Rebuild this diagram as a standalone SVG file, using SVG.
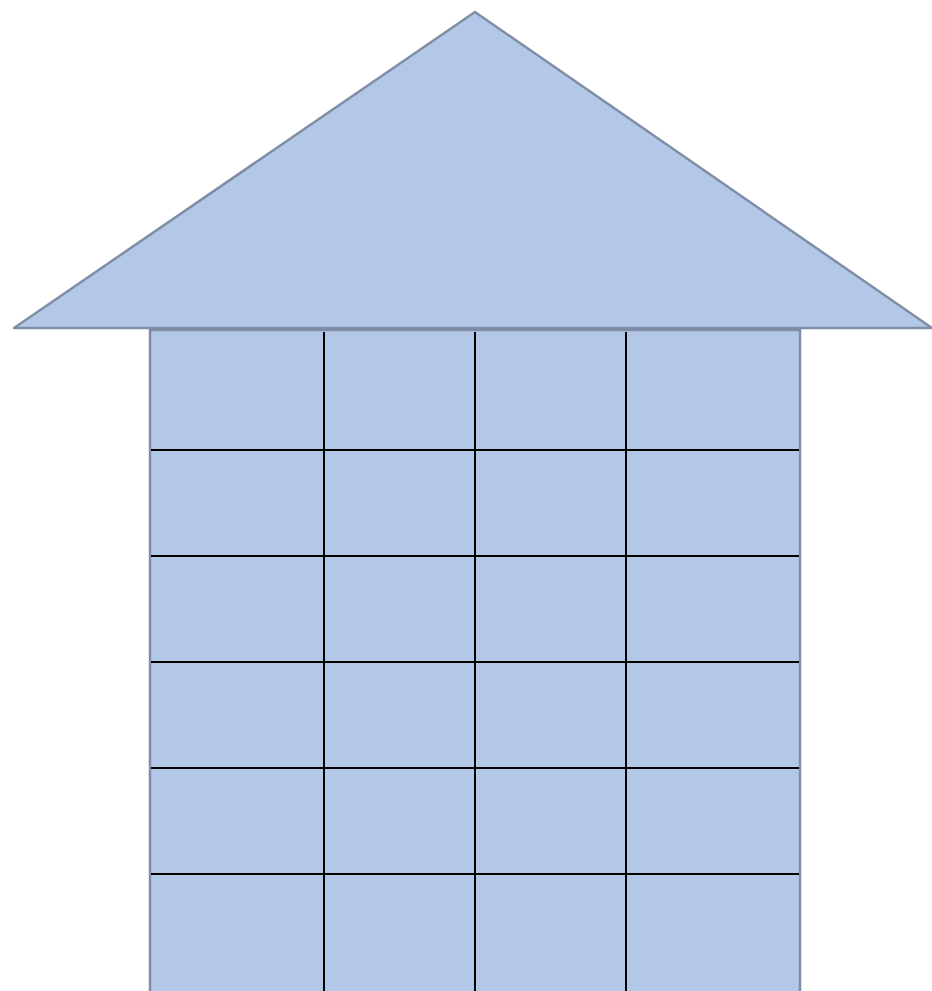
<svg xmlns="http://www.w3.org/2000/svg" width="932" height="991" viewBox="0 0 932 991">
<style>
.shape{fill:#b3c8e7;stroke:#7f8ea6;stroke-width:2.5}
.grid{stroke:#000;stroke-width:2;fill:none}
</style>
<rect width="932" height="991" fill="#fff"/>
<g id="body">
<rect class="shape" x="150" y="330" width="650" height="680"/>
</g>
<g id="roof">
<polygon class="shape" points="475,12 932,328 14,328" stroke-linejoin="round"/>
</g>
<g id="grid">
<path class="grid" d="M151,450H799M151,556H799M151,662H799M151,768H799M151,874H799M324,332V991M475,332V991M626,332V991"/>
</g>
</svg>
